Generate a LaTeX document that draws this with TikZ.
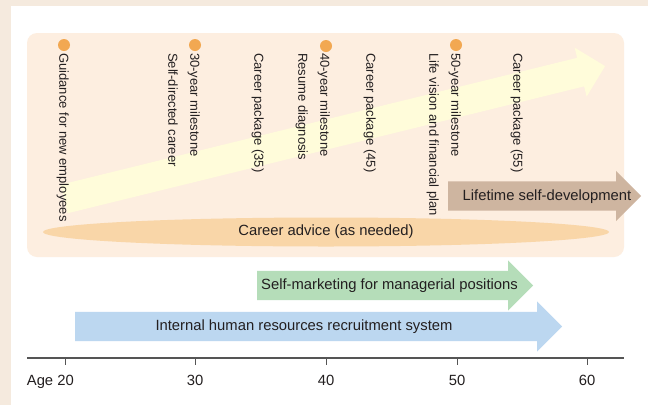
\documentclass[tikz,border=0pt]{standalone}
\usepackage{fontspec}
\setmainfont{Liberation Sans}
\usetikzlibrary{shapes.geometric, shapes.arrows}

\definecolor{outerbg}{RGB}{245,234,222}
\definecolor{panel}{RGB}{253,238,224}
\definecolor{dotc}{RGB}{242,168,82}
\definecolor{advice}{RGB}{249,214,168}
\definecolor{growth}{RGB}{255,252,218}
\definecolor{lifetime}{RGB}{206,181,160}
\definecolor{market}{RGB}{181,221,185}
\definecolor{recruit}{RGB}{188,215,240}
\definecolor{axisc}{RGB}{85,85,85}
\definecolor{ink}{RGB}{35,31,32}

\begin{document}
\begin{tikzpicture}[x=1pt, y=-1pt,
  vlabel/.style={rotate=-90, anchor=north west, inner sep=0pt, align=left, text=ink, font=\fontsize{13}{22}\selectfont},
  hlabel/.style={inner sep=0pt, text=ink, font=\fontsize{14.8}{17}\selectfont},
  milestone/.style={circle, fill=dotc, inner sep=0pt, minimum size=12pt},
  bararrow/.style={single arrow, anchor=tail, inner xsep=0pt, inner ysep=14.5pt, single arrow head extend=10.5pt, minimum width=50pt}]
  % Background
  \fill[outerbg] (0,0) rectangle (648,405);
  \fill[white] (11,6) rectangle (648,405);
  \fill[panel, rounded corners=10pt] (27,33) rectangle (624,257);

  % Growth arrow
  \node[bararrow, fill=growth, minimum height=557pt, rotate=13.8] (growth) at (64,199) {};

  % Milestones
  \node[milestone] (m20) at (64,45) {};
  \node[milestone] (m30) at (195,45) {};
  \node[milestone] (m40) at (326,46) {};
  \node[milestone] (m50) at (456,45) {};

  \node[vlabel] (guide) at (69,53) {Guidance for new employees};
  \node[vlabel] (t30) at (200,53) {30-year milestone\\Self-directed career};
  \node[vlabel] (p35) at (264,53) {Career package (35)};
  \node[vlabel] (t40) at (330,53) {40-year milestone\\Resume diagnosis};
  \node[vlabel] (p45) at (376,53) {Career package (45)};
  \node[vlabel] (t50) at (461,53) {50-year milestone\\Life vision and financial plan};
  \node[vlabel] (p55) at (523,53) {Career package (55)};

  % Career advice
  \node[ellipse, fill=advice, minimum width=566pt, minimum height=29pt, hlabel] (advice) at (326,232) {Career advice (as needed)};

  % Bars
  \node[bararrow, fill=lifetime, minimum height=193pt] (lifetime) at (448,196) {};
  \node[hlabel] (lifetimetext) at (547,197) {Lifetime self-development};
  \node[bararrow, fill=market, minimum height=276pt] (market) at (257,285.5) {};
  \node[hlabel] (markettext) at (389.5,285.5) {Self-marketing for managerial positions};
  \node[bararrow, fill=recruit, minimum height=487pt] (recruit) at (75,326.5) {};
  \node[hlabel] (recruittext) at (304,326.5) {Internal human resources recruitment system};

  % Age axis
  \draw[axisc, line width=1.2pt] (27,358) coordinate (axl) -- (624,358) coordinate (axr);
  \foreach \age/\x in {20/65, 30/195, 40/326, 50/457, 60/587}
    \draw[axisc, line width=1pt] (\x,358) -- (\x,365);
  \node[hlabel, anchor=base east] (a20) at (74,385) {Age 20};
  \foreach \age/\x in {30/195, 40/326, 50/457, 60/587}
    \node[hlabel, anchor=base] (a\age) at (\x,385) {\age};
\end{tikzpicture}
\end{document}
